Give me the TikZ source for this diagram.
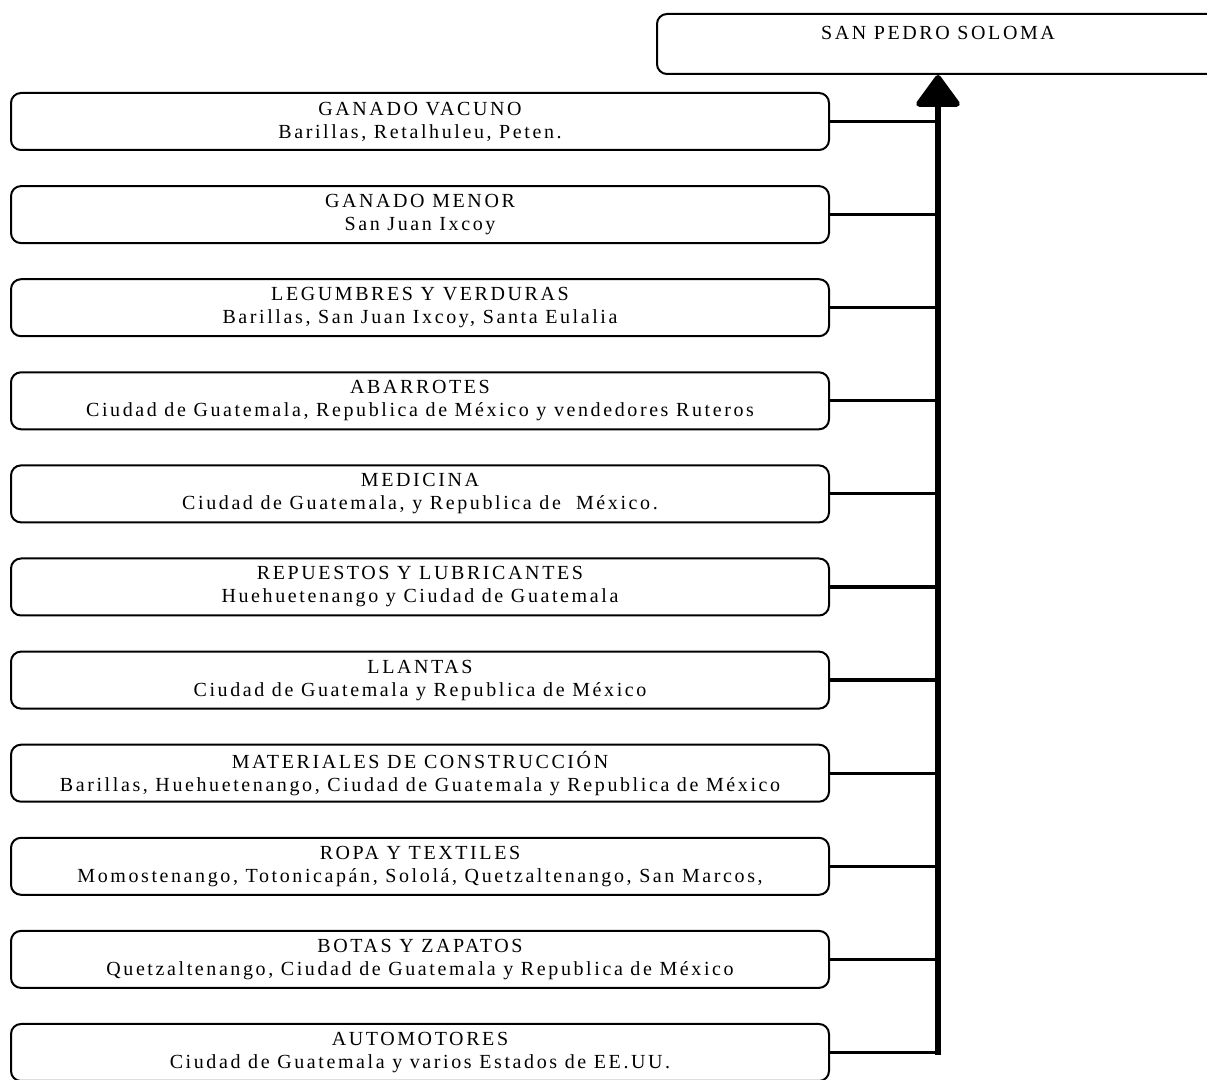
\documentclass[tikz,border=0pt]{standalone}
\usepackage{fontspec}
\setmainfont{Liberation Serif}[LetterSpace=13]
\usetikzlibrary{arrows.meta,calc}

\begin{document}
\begin{tikzpicture}
[x=0.5pt, y=-0.5pt, draw=black,
entry/.style={rectangle, draw, line width=1pt, rounded corners=5pt, minimum width=409pt, minimum height=28.5pt, inner sep=0pt, align=center, font=\fontsize{10}{11.5}\selectfont},
place/.style={entry, minimum width=281pt, minimum height=30pt},
link/.style={line width=1.6pt},
spine/.style={line width=3pt, line cap=rect}]

\useasboundingbox (0,0) rectangle (1207,1080);

\node[place] (solom) at (938,44) {SAN PEDRO SOLOMA\\ \mbox{}};

\node[entry] (vacuno) at (420,121.5) {GANADO VACUNO\\Barillas, Retalhuleu, Peten.};
\node[entry] (menor) at (420,214.6) {GANADO MENOR\\San Juan Ixcoy};
\node[entry] (legum) at (420,307.7) {LEGUMBRES Y VERDURAS\\Barillas, San Juan Ixcoy, Santa Eulalia};
\node[entry] (abarr) at (420,400.8) {ABARROTES\\Ciudad de Guatemala, Republica de México y vendedores Ruteros};
\node[entry] (medic) at (420,493.9) {MEDICINA\\Ciudad de Guatemala, y Republica de \ México.};
\node[entry] (repue) at (420,587) {REPUESTOS Y LUBRICANTES\\Huehuetenango y Ciudad de Guatemala};
\node[entry] (llant) at (420,680.1) {LLANTAS\\Ciudad de Guatemala y Republica de México};
\node[entry] (mater) at (420,773.2) {MATERIALES DE CONSTRUCCIÓN\\Barillas, Huehuetenango, Ciudad de Guatemala y Republica de México};
\node[entry] (ropa) at (420,866.3) {ROPA Y TEXTILES\\Momostenango, Totonicapán, Sololá, Quetzaltenango, San Marcos,};
\node[entry] (botas) at (420,959.4) {BOTAS Y ZAPATOS\\Quetzaltenango, Ciudad de Guatemala y Republica de México};
\node[entry] (autom) at (420,1052.5) {AUTOMOTORES\\Ciudad de Guatemala y varios Estados de EE.UU.};

\coordinate (base) at (autom.east -| solom.south);

\foreach \n in {vacuno,menor,legum,abarr,medic,repue,llant,mater,ropa,botas,autom}
  \draw[link] (\n.east) -- (\n.east -| solom.south);

\draw[spine, -{Triangle[length=17pt, width=24pt, round]}] (base) -- (solom.south);

\end{tikzpicture}
\end{document}
